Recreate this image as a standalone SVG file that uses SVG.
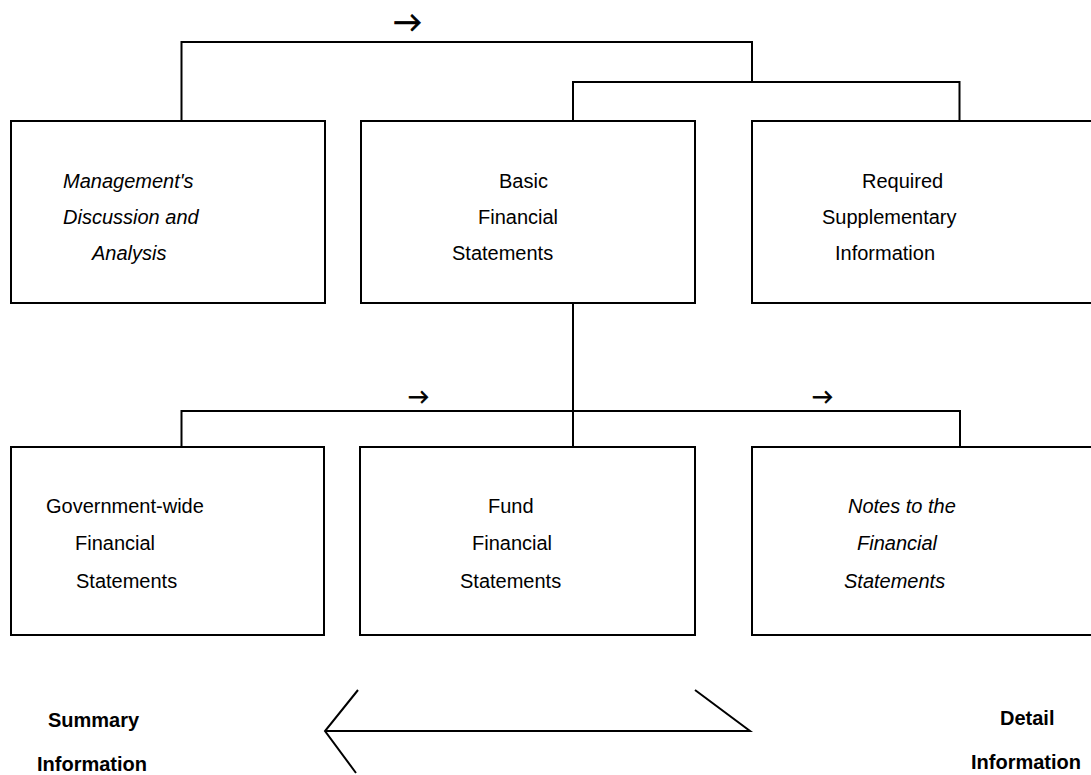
<svg xmlns="http://www.w3.org/2000/svg" width="1091" height="775" viewBox="0 0 1091 775">
<style>
.box{fill:#fff;stroke:#000;stroke-width:2}
.ln{fill:none;stroke:#000;stroke-width:2}
.t{font-family:"Liberation Sans",Arial,sans-serif;font-size:20px;fill:#000}
.i{font-style:italic}
.b{font-weight:bold}
.ar{fill:#000;stroke:#000;stroke-width:0.8;font-family:Lato,"DejaVu Sans",sans-serif}
</style>
<rect width="1091" height="775" fill="#fff"/>
<g id="connectors">
<polyline class="ln" points="181.5,121 181.5,42 752,42 752,82"/>
<polyline class="ln" points="573,121 573,82 959.5,82 959.5,121"/>
<line class="ln" x1="573" y1="303" x2="573" y2="447" stroke-width="1.5"/>
<polyline class="ln" points="181.5,447 181.5,411 960,411 960,447"/>
<text class="ar" x="393" y="32" font-size="29">→</text>
<text class="ar" x="408" y="404" font-size="21">→</text>
<text class="ar" x="812" y="404" font-size="21">→</text>
<polyline class="ln" points="358,690 325,731 356,773"/>
<polyline class="ln" points="325,731 750,731 695,690"/>
</g>
<g id="mda">
<rect class="box" x="11" y="121" width="314" height="182"/>
<text class="t i" x="63" y="188">Management's</text>
<text class="t i" x="63" y="224">Discussion and</text>
<text class="t i" x="92" y="260">Analysis</text>
</g>
<g id="basic">
<rect class="box" x="361" y="121" width="334" height="182"/>
<text class="t" x="499" y="188">Basic</text>
<text class="t" x="478" y="224">Financial</text>
<text class="t" x="452" y="260">Statements</text>
</g>
<g id="rsi">
<rect class="box" x="752" y="121" width="345" height="182"/>
<text class="t" x="862" y="188">Required</text>
<text class="t" x="822" y="224">Supplementary</text>
<text class="t" x="835" y="260">Information</text>
</g>
<g id="gov">
<rect class="box" x="11" y="447" width="313" height="188"/>
<text class="t" x="46" y="513">Government-wide</text>
<text class="t" x="75" y="550">Financial</text>
<text class="t" x="76" y="588">Statements</text>
</g>
<g id="fund">
<rect class="box" x="360" y="447" width="335" height="188"/>
<text class="t" x="488" y="513">Fund</text>
<text class="t" x="472" y="550">Financial</text>
<text class="t" x="460" y="588">Statements</text>
</g>
<g id="notes">
<rect class="box" x="752" y="447" width="345" height="188"/>
<text class="t i" x="848" y="513">Notes to the</text>
<text class="t i" x="857" y="550">Financial</text>
<text class="t i" x="844" y="588">Statements</text>
</g>
<g id="summary">
<text class="t b" x="48" y="727">Summary</text>
<text class="t b" x="37" y="771">Information</text>
</g>
<g id="detail">
<text class="t b" x="1000" y="725">Detail</text>
<text class="t b" x="971" y="769">Information</text>
</g>
</svg>
